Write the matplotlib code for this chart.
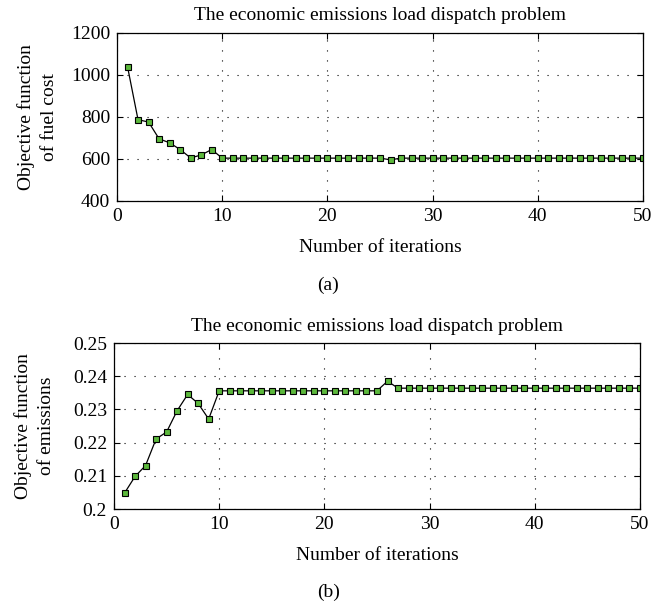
import numpy as np
import matplotlib
matplotlib.use('Agg')
import matplotlib.pyplot as plt
from matplotlib.ticker import FuncFormatter

plt.rcParams['font.family'] = ['Liberation Serif', 'DejaVu Serif']
plt.rcParams['mathtext.fontset'] = 'dejavuserif'

iterations = np.arange(1, 51)

# fuel cost per iteration
fuel_cost = [1040, 787, 776, 696, 677, 645, 605, 619, 645] + [604] * 16 + [596] + [604] * 24
# emissions per iteration
emissions = [0.2048, 0.2098, 0.2131, 0.2211, 0.2232, 0.2296, 0.2345, 0.2318, 0.2271] \
    + [0.2356] * 16 + [0.2385] + [0.2364] * 24

title = 'The economic emissions load dispatch problem'
green = '#5cb83c'
fs = 14


def style_axes(ax):
    ax.set_xlim(0, 50)
    ax.set_xticks([0, 10, 20, 30, 40, 50])
    ax.grid(True, linestyle=(0, (1, 8)), color='black', linewidth=0.8)
    ax.tick_params(direction='in', top=True, right=True, labelsize=fs, length=4, pad=5)
    for sp in ax.spines.values():
        sp.set_linewidth(0.9)
    ax.set_title(title, fontsize=fs, pad=9)
    ax.set_xlabel('Number of iterations', fontsize=fs, labelpad=10)
    ax.yaxis.set_label_coords(-0.112, 0.5)


fig = plt.figure(figsize=(6.51, 6.07), dpi=100)

ax1 = fig.add_axes([0.1797, 0.6689, 0.808, 0.2768])
ax1.plot(iterations, fuel_cost, color='black', linewidth=0.9, marker='s',
         markersize=5, markerfacecolor=green, markeredgecolor='black', markeredgewidth=0.8)
ax1.set_ylim(400, 1200)
ax1.set_yticks([400, 600, 800, 1000, 1200])
style_axes(ax1)
ax1.set_ylabel('Objective function\nof fuel cost', fontsize=fs, linespacing=1.45)
fig.text(0.504, 1 - 285 / 607, '(a)', ha='center', va='center', fontsize=fs)

ax2 = fig.add_axes([0.1751, 0.1614, 0.808, 0.2735])
ax2.plot(iterations, emissions, color='black', linewidth=0.9, marker='s',
         markersize=5, markerfacecolor=green, markeredgecolor='black', markeredgewidth=0.8)
ax2.set_ylim(0.2, 0.25)
ax2.set_yticks([0.2, 0.21, 0.22, 0.23, 0.24, 0.25])
ax2.yaxis.set_major_formatter(FuncFormatter(lambda v, p: '%g' % round(v, 2)))
style_axes(ax2)
ax2.set_ylabel('Objective function\nof emissions', fontsize=fs, linespacing=1.45)
fig.text(0.504, 1 - 592 / 607, '(b)', ha='center', va='center', fontsize=fs)

fig.savefig('out.png', dpi=100)
